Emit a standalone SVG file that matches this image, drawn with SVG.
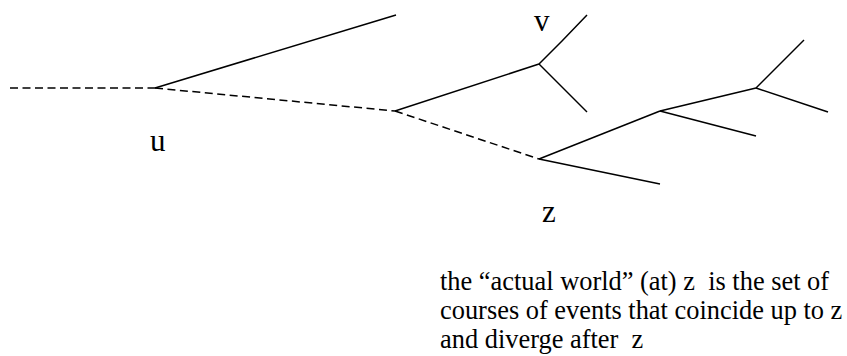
<svg xmlns="http://www.w3.org/2000/svg" width="847" height="356" viewBox="0 0 847 356">
<style>
.ln{fill:none;stroke:#000;stroke-width:1.5;stroke-linecap:butt}
.ds{stroke-dasharray:8 4.5}
.lbl{font-family:"Liberation Serif","Times New Roman",serif;font-size:31px;fill:#000}
.cap{font-family:"Liberation Serif","Times New Roman",serif;font-size:26.4px;fill:#000}
</style>
<rect width="847" height="356" fill="#fff"/>
<g id="connectors">
<line class="ln ds" x1="10" y1="88" x2="155" y2="88"/>
<line class="ln" x1="155" y1="88" x2="396" y2="15"/>
<line class="ln ds" x1="155" y1="88" x2="395" y2="111"/>
<line class="ln" x1="395" y1="111" x2="539" y2="64"/>
<line class="ln ds" x1="395" y1="111" x2="539" y2="159"/>
<polyline class="ln" points="539,64 562,41 587,15"/>
<line class="ln" x1="539" y1="64" x2="587" y2="112"/>
<line class="ln" x1="539" y1="159" x2="660" y2="111"/>
<line class="ln" x1="539" y1="159" x2="660" y2="184"/>
<line class="ln" x1="660" y1="111" x2="756" y2="88"/>
<line class="ln" x1="660" y1="111" x2="756" y2="136"/>
<line class="ln" x1="756" y1="88" x2="804" y2="40"/>
<line class="ln" x1="756" y1="88" x2="828" y2="112"/>
</g>
<g id="u"><text class="lbl" x="150" y="151">u</text></g>
<g id="v"><text class="lbl" x="534" y="31">v</text></g>
<g id="z"><text class="lbl" x="542" y="222">z</text></g>
<g id="caption">
<text class="cap" x="440" y="290" xml:space="preserve">the “actual world” (at) z  is the set of</text>
<text class="cap" x="440" y="319">courses of events that coincide up to z</text>
<text class="cap" x="440" y="348" xml:space="preserve">and diverge after  z</text>
</g>
</svg>
